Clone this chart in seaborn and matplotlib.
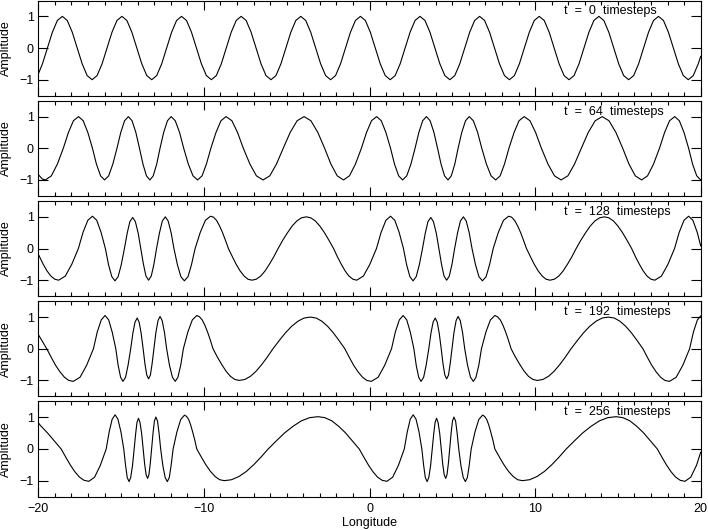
import matplotlib
matplotlib.use("Agg")
import matplotlib.pyplot as plt
import seaborn as sns
from matplotlib.ticker import MultipleLocator

# -----------------------------
# Data
# -----------------------------

timesteps = [0, 64, 128, 192, 256]
lon_ticks = [-20, -10, 0, 10, 20]
amp_ticks = [-1, 0, 1]
amp_tick_labels = ["\u22121", "0", "1"]

# t = 0
lon_t0 = [-20, -19.75, -19.45, -19.15, -18.85,
          -18.55, -18.25, -17.95, -17.65, -17.35, -17.05, -16.75, -16.45, -16.15, -15.85, -15.55, -15.25,
          -14.95, -14.65, -14.35, -14.05, -13.75, -13.45, -13.15, -12.85, -12.55, -12.25, -11.95, -11.65,
          -11.35, -11.05, -10.75, -10.45, -10.15, -9.85, -9.55, -9.25, -8.95, -8.65, -8.35, -8.05,
          -7.75, -7.45, -7.15, -6.85, -6.55, -6.25, -5.95, -5.65, -5.35, -5.05, -4.75, -4.45,
          -4.15, -3.85, -3.55, -3.25, -2.95, -2.65, -2.35, -2.05, -1.75, -1.45, -1.15, -0.85,
          -0.55, -0.25, 0.05, 0.35, 0.65, 0.95, 1.25, 1.55, 1.85, 2.15, 2.45, 2.75,
          3.05, 3.35, 3.65, 3.95, 4.25, 4.55, 4.85, 5.15, 5.45, 5.75, 6.05, 6.35,
          6.65, 6.95, 7.25, 7.55, 7.85, 8.15, 8.45, 8.75, 9.05, 9.35, 9.65, 9.95,
          10.25, 10.55, 10.85, 11.15, 11.45, 11.75, 12.05, 12.35, 12.65, 12.95, 13.25, 13.55,
          13.85, 14.15, 14.45, 14.75, 15.05, 15.35, 15.65, 15.95, 16.25, 16.55, 16.85, 17.15,
          17.45, 17.75, 18.05, 18.35, 18.65, 18.95, 19.25, 19.55, 19.85,
          20]
amp_t0 = [-0.82, -0.5, 0, 0.5, 0.87,
          1, 0.87, 0.5, 0, -0.5, -0.87, -1, -0.87, -0.5, 0, 0.5, 0.87,
          1, 0.87, 0.5, 0, -0.5, -0.87, -1, -0.87, -0.5, 0, 0.5, 0.87,
          1, 0.87, 0.5, 0, -0.5, -0.87, -1, -0.87, -0.5, 0, 0.5, 0.87,
          1, 0.87, 0.5, 0, -0.5, -0.87, -1, -0.87, -0.5, 0, 0.5, 0.87,
          1, 0.87, 0.5, 0, -0.5, -0.87, -1, -0.87, -0.5, 0, 0.5, 0.87,
          1, 0.87, 0.5, 0, -0.5, -0.87, -1, -0.87, -0.5, 0, 0.5, 0.87,
          1, 0.87, 0.5, 0, -0.5, -0.87, -1, -0.87, -0.5, 0, 0.5, 0.87,
          1, 0.87, 0.5, 0, -0.5, -0.87, -1, -0.87, -0.5, 0, 0.5, 0.87,
          1, 0.87, 0.5, 0, -0.5, -0.87, -1, -0.87, -0.5, 0, 0.5, 0.87,
          1, 0.87, 0.5, 0, -0.5, -0.87, -1, -0.87, -0.5, 0, 0.5, 0.87,
          1, 0.87, 0.5, 0, -0.5, -0.87, -1, -0.87, -0.5,
          -0.26]

# t = 64
lon_t64 = [-20, -19.76, -19.57,
           -19.21, -18.85, -18.49, -18.18, -17.88, -17.57,
           -17.29, -17.01, -16.73, -16.49, -16.24, -16.0,
           -15.75, -15.5, -15.25, -15.02, -14.79, -14.56,
           -14.34, -14.11, -13.89, -13.68, -13.47, -13.26,
           -13.06, -12.85, -12.65, -12.43, -12.2, -11.98,
           -11.73, -11.47, -11.22, -10.94, -10.66, -10.38,
           -10.11, -9.85, -9.58, -9.27, -8.97, -8.66,
           -8.31, -7.97, -7.62, -7.22, -6.83, -6.43,
           -6.02, -5.62, -5.21, -4.79, -4.37, -3.95,
           -3.54, -3.12, -2.71, -2.33, -1.95, -1.57,
           -1.21, -0.85, -0.49, -0.18, 0.12, 0.43,
           0.71, 0.99, 1.27, 1.51, 1.76, 2.0,
           2.25, 2.5, 2.75, 2.98, 3.21, 3.44,
           3.66, 3.89, 4.11, 4.32, 4.53, 4.74,
           4.94, 5.15, 5.35, 5.57, 5.8, 6.02,
           6.27, 6.53, 6.78, 7.06, 7.34, 7.62,
           7.89, 8.15, 8.42, 8.73, 9.03, 9.34,
           9.69, 10.03, 10.38, 10.78, 11.17, 11.57,
           11.98, 12.38, 12.79, 13.21, 13.63, 14.05,
           14.46, 14.88, 15.29, 15.67, 16.05, 16.43,
           16.79, 17.15, 17.51, 17.82, 18.12, 18.43,
           18.71, 18.99, 19.27, 19.51, 19.76, 20.0]
amp_t64 = [-0.83, -0.97, -1.0,
           -0.87, -0.5, 0, 0.5, 0.87, 1.0, 0.87, 0.5, 0, -0.5, -0.87, -1.0,
           -0.87, -0.5, 0, 0.5, 0.87, 1.0, 0.87, 0.5, 0, -0.5, -0.87, -1.0,
           -0.87, -0.5, 0, 0.5, 0.87, 1.0, 0.87, 0.5, 0, -0.5, -0.87, -1.0,
           -0.87, -0.5, 0, 0.5, 0.87, 1.0, 0.87, 0.5, 0, -0.5, -0.87, -1.0,
           -0.87, -0.5, 0, 0.5, 0.87, 1.0, 0.87, 0.5, 0, -0.5, -0.87, -1.0,
           -0.87, -0.5, 0, 0.5, 0.87, 1.0, 0.87, 0.5, 0, -0.5, -0.87, -1.0,
           -0.87, -0.5, 0, 0.5, 0.87, 1.0, 0.87, 0.5, 0, -0.5, -0.87, -1.0,
           -0.87, -0.5, 0, 0.5, 0.87, 1.0, 0.87, 0.5, 0, -0.5, -0.87, -1.0,
           -0.87, -0.5, 0, 0.5, 0.87, 1.0, 0.87, 0.5, 0, -0.5, -0.87, -1.0,
           -0.87, -0.5, 0, 0.5, 0.87, 1.0, 0.87, 0.5, 0, -0.5, -0.87, -1.0,
           -0.87, -0.5, 0, 0.5, 0.87, 1.0, 0.87, 0.5, 0, -0.5, -0.87, -1.0]

# t = 128
lon_t128 = [-20, -19.7, -19.47, -19.24, -19.0, -18.77,
            -18.37, -17.98, -17.58, -17.3, -17.01, -16.73,
            -16.47, -16.21, -15.95, -15.76, -15.56, -15.37,
            -15.18, -14.99, -14.8, -14.63, -14.47, -14.3,
            -14.14, -13.97, -13.81, -13.65, -13.5, -13.34,
            -13.18, -13.02, -12.86, -12.68, -12.51, -12.33,
            -12.16, -11.98, -11.81, -11.6, -11.39, -11.18,
            -10.96, -10.75, -10.53, -10.22, -9.91, -9.6,
            -9.42, -9.24, -9.06, -8.88, -8.7, -8.52, -8.28, -8.05, -7.81, -7.57, -7.34, -7.1,
            -6.84, -6.57, -6.31, -6.05, -5.78, -5.52, -5.24, -4.95, -4.67, -4.39, -4.1, -3.82,
            -3.55, -3.27, -3.0, -2.72, -2.45, -2.17, -1.94, -1.7, -1.47, -1.24, -1.0, -0.77,
            -0.37, 0.02, 0.42, 0.7, 0.99, 1.27,
            1.53, 1.79, 2.05, 2.24, 2.44, 2.63,
            2.82, 3.01, 3.2, 3.37, 3.53, 3.7,
            3.86, 4.03, 4.19, 4.35, 4.5, 4.66,
            4.82, 4.98, 5.14, 5.32, 5.49, 5.67,
            5.84, 6.02, 6.19, 6.4, 6.61, 6.82,
            7.04, 7.25, 7.47, 7.78, 8.09, 8.4,
            8.58, 8.76, 8.94, 9.12, 9.3, 9.48, 9.72, 9.95, 10.19, 10.43, 10.66, 10.9,
            11.16, 11.43, 11.69, 11.95, 12.22, 12.48, 12.76, 13.05, 13.33, 13.61, 13.9, 14.18,
            14.45, 14.73, 15.0, 15.28, 15.55, 15.83, 16.06, 16.3, 16.53, 16.76, 17.0, 17.23,
            17.63, 18.02, 18.42, 18.7, 18.99, 19.27,
            19.53, 19.79, 20.0]
amp_t128 = [-0.18, -0.5, -0.71, -0.87, -0.97, -1.0,
            -0.87, -0.5, 0, 0.51, 0.89, 1.02,
            0.89, 0.51, 0, -0.51, -0.89, -1.02,
            -0.89, -0.51, 0, 0.49, 0.85, 0.98,
            0.85, 0.49, 0, -0.5, -0.87, -1.0,
            -0.87, -0.5, 0, 0.5, 0.87, 1.0,
            0.87, 0.5, 0, -0.51, -0.89, -1.02,
            -0.89, -0.51, 0, 0.51, 0.89, 1.02,
            0.99, 0.89, 0.72, 0.51, 0.26, 0, -0.26, -0.5, -0.71, -0.87, -0.97, -1.0,
            -0.97, -0.87, -0.71, -0.5, -0.26, 0, 0.26, 0.5, 0.71, 0.87, 0.97, 1.0,
            0.97, 0.87, 0.71, 0.5, 0.26, 0, -0.26, -0.5, -0.71, -0.87, -0.97, -1.0,
            -0.87, -0.5, 0, 0.51, 0.89, 1.02,
            0.89, 0.51, 0, -0.51, -0.89, -1.02,
            -0.89, -0.51, 0, 0.49, 0.85, 0.98,
            0.85, 0.49, 0, -0.5, -0.87, -1.0,
            -0.87, -0.5, 0, 0.5, 0.87, 1.0,
            0.87, 0.5, 0, -0.51, -0.89, -1.02,
            -0.89, -0.51, 0, 0.51, 0.89, 1.02,
            0.99, 0.89, 0.72, 0.51, 0.26, 0, -0.26, -0.5, -0.71, -0.87, -0.97, -1.0,
            -0.97, -0.87, -0.71, -0.5, -0.26, 0, 0.26, 0.5, 0.71, 0.87, 0.97, 1.0,
            0.97, 0.87, 0.71, 0.5, 0.26, 0, -0.26, -0.5, -0.71, -0.87, -0.97, -1.0,
            -0.87, -0.5, 0, 0.51, 0.89, 1.02,
            0.89, 0.51, 0.08]

# t = 192
lon_t192 = [-20, -19.49, -19.22, -18.96, -18.69, -18.42, -18.16, -17.89,
            -17.48, -17.08, -16.67, -16.44, -16.2, -15.97,
            -15.75, -15.54, -15.32, -15.18, -15.03, -14.89,
            -14.73, -14.58, -14.42, -14.29, -14.16, -14.03,
            -13.91, -13.79, -13.67, -13.56, -13.45, -13.34,
            -13.23, -13.13, -13.02, -12.9, -12.77, -12.65,
            -12.52, -12.38, -12.25, -12.08, -11.9, -11.73,
            -11.57, -11.4, -11.24, -10.97, -10.7, -10.43,
            -10.27, -10.1, -9.94, -9.78, -9.61, -9.45, -9.19, -8.92, -8.66, -8.4, -8.13, -7.87,
            -7.53, -7.19, -6.85, -6.51, -6.17, -5.83, -5.45, -5.08, -4.7, -4.32, -3.95, -3.57,
            -3.22, -2.88, -2.53, -2.18, -1.84, -1.49, -1.22, -0.96, -0.69, -0.42, -0.16, 0.11,
            0.52, 0.92, 1.33, 1.56, 1.8, 2.03,
            2.25, 2.46, 2.68, 2.82, 2.97, 3.11,
            3.27, 3.42, 3.58, 3.71, 3.84, 3.97,
            4.09, 4.21, 4.33, 4.44, 4.55, 4.66,
            4.77, 4.87, 4.98, 5.1, 5.23, 5.35,
            5.48, 5.62, 5.75, 5.92, 6.1, 6.27,
            6.43, 6.6, 6.76, 7.03, 7.3, 7.57,
            7.73, 7.9, 8.06, 8.22, 8.39, 8.55, 8.81, 9.08, 9.34, 9.6, 9.87, 10.13,
            10.47, 10.81, 11.15, 11.49, 11.83, 12.17, 12.55, 12.92, 13.3, 13.68, 14.05, 14.43,
            14.78, 15.12, 15.47, 15.82, 16.16, 16.51, 16.78, 17.04, 17.31, 17.58, 17.84, 18.11,
            18.52, 18.92, 19.33, 19.56, 19.8, 20.0]
amp_t192 = [0.45, 0, -0.27, -0.52, -0.73, -0.9, -1.0, -1.03,
            -0.9, -0.52, 0, 0.53, 0.91, 1.05,
            0.91, 0.53, 0, -0.52, -0.9, -1.03,
            -0.9, -0.52, 0, 0.49, 0.84, 0.97,
            0.84, 0.49, 0, -0.48, -0.83, -0.95,
            -0.83, -0.48, 0, 0.51, 0.89, 1.02,
            0.89, 0.51, 0, -0.52, -0.9, -1.03,
            -0.9, -0.52, 0, 0.53, 0.91, 1.05,
            1.01, 0.91, 0.74, 0.53, 0.27, 0, -0.26, -0.5, -0.71, -0.87, -0.97, -1.0,
            -0.97, -0.87, -0.71, -0.5, -0.26, 0, 0.26, 0.5, 0.71, 0.87, 0.97, 1.0,
            0.97, 0.87, 0.71, 0.5, 0.26, 0, -0.27, -0.52, -0.73, -0.9, -1.0, -1.03,
            -0.9, -0.52, 0, 0.53, 0.91, 1.05,
            0.91, 0.53, 0, -0.52, -0.9, -1.03,
            -0.9, -0.52, 0, 0.49, 0.84, 0.97,
            0.84, 0.49, 0, -0.48, -0.83, -0.95,
            -0.83, -0.48, 0, 0.51, 0.89, 1.02,
            0.89, 0.51, 0, -0.52, -0.9, -1.03,
            -0.9, -0.52, 0, 0.53, 0.91, 1.05,
            1.01, 0.91, 0.74, 0.53, 0.27, 0, -0.26, -0.5, -0.71, -0.87, -0.97, -1.0,
            -0.97, -0.87, -0.71, -0.5, -0.26, 0, 0.26, 0.5, 0.71, 0.87, 0.97, 1.0,
            0.97, 0.87, 0.71, 0.5, 0.26, 0, -0.27, -0.52, -0.73, -0.9, -1.0, -1.03,
            -0.9, -0.52, 0, 0.53, 0.91, 1.04]

# t = 256
lon_t256 = [-20, -19.87, -19.45, -19.04, -18.62, -18.34, -18.06, -17.79, -17.51, -17.23, -16.95,
            -16.6, -16.25, -15.9, -15.72, -15.54, -15.36,
            -15.19, -15.01, -14.84, -14.73, -14.63, -14.52,
            -14.42, -14.31, -14.21, -14.12, -14.04, -13.95,
            -13.86, -13.76, -13.67, -13.58, -13.49, -13.4,
            -13.32, -13.24, -13.16, -13.07, -12.99, -12.9,
            -12.8, -12.71, -12.61, -12.48, -12.34, -12.21,
            -12.09, -11.98, -11.86, -11.63, -11.4, -11.17,
            -11.05, -10.92, -10.8, -10.68, -10.55, -10.43, -10.15, -9.88, -9.6, -9.32, -9.05, -8.77,
            -8.33, -7.89, -7.44, -7.0, -6.56, -6.12, -5.62, -5.12, -4.61, -4.11, -3.61, -3.11,
            -2.7, -2.28, -1.87, -1.45, -1.04, -0.62, -0.34, -0.06, 0.21, 0.49, 0.77, 1.05,
            1.4, 1.75, 2.1, 2.28, 2.46, 2.64,
            2.81, 2.99, 3.16, 3.27, 3.37, 3.48,
            3.58, 3.69, 3.79, 3.88, 3.96, 4.05,
            4.14, 4.24, 4.33, 4.42, 4.51, 4.6,
            4.68, 4.76, 4.84, 4.93, 5.01, 5.1,
            5.2, 5.29, 5.39, 5.52, 5.66, 5.79,
            5.91, 6.02, 6.14, 6.37, 6.6, 6.83,
            6.95, 7.08, 7.2, 7.32, 7.45, 7.57, 7.85, 8.12, 8.4, 8.68, 8.95, 9.23,
            9.67, 10.11, 10.56, 11.0, 11.44, 11.88, 12.38, 12.88, 13.39, 13.89, 14.39, 14.89,
            15.3, 15.72, 16.13, 16.55, 16.96, 17.38, 17.66, 17.94, 18.21, 18.49, 18.77, 19.05,
            19.4, 19.75, 20.0]
amp_t256 = [0.83, 0.74, 0.51, 0.26, 0, -0.26, -0.51, -0.72, -0.89, -0.99, -1.02,
            -0.89, -0.51, 0, 0.54, 0.94, 1.08,
            0.94, 0.54, 0, -0.52, -0.9, -1.03,
            -0.9, -0.52, 0, 0.49, 0.84, 0.97,
            0.84, 0.49, 0, -0.47, -0.81, -0.93,
            -0.81, -0.47, 0, 0.51, 0.88, 1.01,
            0.88, 0.51, 0, -0.52, -0.9, -1.03,
            -0.9, -0.52, 0, 0.54, 0.93, 1.07,
            1.03, 0.93, 0.76, 0.54, 0.28, 0, -0.26, -0.5, -0.71, -0.87, -0.97, -1.0,
            -0.97, -0.87, -0.71, -0.5, -0.26, 0, 0.26, 0.51, 0.72, 0.89, 0.99, 1.02,
            0.99, 0.89, 0.72, 0.51, 0.26, 0, -0.26, -0.51, -0.72, -0.89, -0.99, -1.02,
            -0.89, -0.51, 0, 0.54, 0.94, 1.08,
            0.94, 0.54, 0, -0.52, -0.9, -1.03,
            -0.9, -0.52, 0, 0.49, 0.84, 0.97,
            0.84, 0.49, 0, -0.47, -0.81, -0.93,
            -0.81, -0.47, 0, 0.51, 0.88, 1.01,
            0.88, 0.51, 0, -0.52, -0.9, -1.03,
            -0.9, -0.52, 0, 0.54, 0.93, 1.07,
            1.03, 0.93, 0.76, 0.54, 0.28, 0, -0.26, -0.5, -0.71, -0.87, -0.97, -1.0,
            -0.97, -0.87, -0.71, -0.5, -0.26, 0, 0.26, 0.51, 0.72, 0.89, 0.99, 1.02,
            0.99, 0.89, 0.72, 0.51, 0.26, 0, -0.26, -0.51, -0.72, -0.89, -0.99, -1.02,
            -0.89, -0.51, -0.1]

lons = [lon_t0, lon_t64, lon_t128, lon_t192, lon_t256]
amps = [amp_t0, amp_t64, amp_t128, amp_t192, amp_t256]

# -----------------------------
# Style
# -----------------------------

sns.set_theme(style="ticks")
plt.rcParams["font.family"] = ["Liberation Sans", "DejaVu Sans"]
plt.rcParams.update({
    "axes.edgecolor": "black",
    "axes.labelcolor": "black",
    "text.color": "black",
    "xtick.color": "black",
    "ytick.color": "black",
    "axes.linewidth": 0.8,
})

# -----------------------------
# Plot
# -----------------------------

fig, axes = plt.subplots(5, 1, figsize=(7.08, 5.30), dpi=100, sharex=True)
fig.subplots_adjust(left=0.0541, right=0.9897, top=0.999, bottom=0.0632, hspace=0.055)

for ax, t, lon, amp in zip(axes, timesteps, lons, amps):
    sns.lineplot(x=lon, y=amp, ax=ax, color="black", linewidth=0.8,
                 sort=False, estimator=None)
    ax.set_xlim(-20, 20)
    ax.set_ylim(-1.5, 1.5)
    ax.set_xticks(lon_ticks)
    ax.xaxis.set_minor_locator(MultipleLocator(1))
    ax.set_yticks(amp_ticks)
    ax.set_yticklabels(amp_tick_labels)
    ax.tick_params(axis="both", which="both", direction="in",
                   top=True, right=True, width=0.8, labelsize=9)
    ax.tick_params(axis="x", which="major", length=6.5, pad=5)
    ax.tick_params(axis="x", which="minor", length=3.0)
    ax.tick_params(axis="y", which="major", length=7.5, pad=3.3)
    ax.set_ylabel("Amplitude", fontsize=9)
    ax.yaxis.set_label_coords(-0.040, 0.5)
    ax.set_xlabel("")
    ax.text(0.793, 0.885, f"t  =  {t}  timesteps", transform=ax.transAxes,
            ha="left", va="center", fontsize=9)

axes[-1].set_xlabel("Longitude", fontsize=9, labelpad=1)

plt.savefig("out.png", dpi=100)
